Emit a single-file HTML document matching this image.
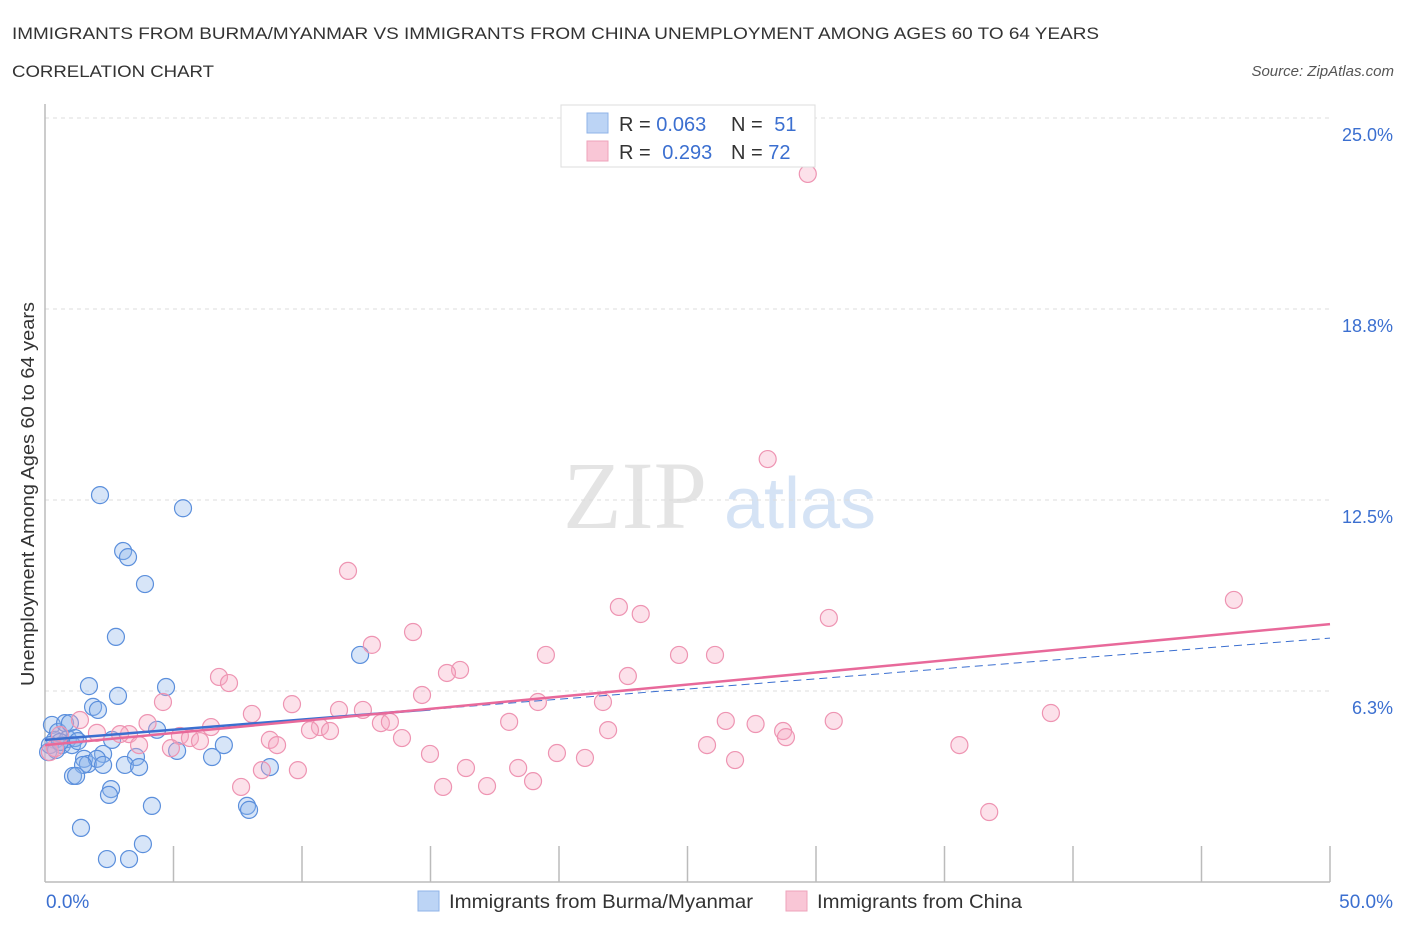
<!DOCTYPE html>
<html><head><meta charset="utf-8"><style>
body{margin:0;background:#fff;font-family:"Liberation Sans",sans-serif;}
svg{display:block}
</style></head><body>
<svg id="chart" width="1406" height="930" viewBox="0 0 1406 930">
<text x="12" y="39" font-size="17" fill="#333" textLength="1087" lengthAdjust="spacingAndGlyphs">IMMIGRANTS FROM BURMA/MYANMAR VS IMMIGRANTS FROM CHINA UNEMPLOYMENT AMONG AGES 60 TO 64 YEARS</text>
<text x="12" y="77" font-size="17" fill="#333" textLength="202" lengthAdjust="spacingAndGlyphs">CORRELATION CHART</text>
<text x="1394" y="76" font-size="15" font-style="italic" fill="#555" text-anchor="end">Source: ZipAtlas.com</text>
<text x="635" y="528" font-size="96" font-family="Liberation Serif,serif" fill="#e4e4e4" text-anchor="middle">ZIP</text>
<text x="800" y="528" font-size="72" fill="#d5e3f5" text-anchor="middle">atlas</text>
<text transform="translate(34,494) rotate(-90)" font-size="18" fill="#333" text-anchor="middle" textLength="384" lengthAdjust="spacingAndGlyphs">Unemployment Among Ages 60 to 64 years</text>
<g id="grid"></g><g id="axes"></g><g id="pts"></g><g id="trend"></g>
<g>
<rect x="561" y="105" width="254" height="62" fill="#fff" stroke="#ddd"/>
<rect x="587" y="113" width="21" height="20" fill="#bcd4f5" stroke="#8fb3e8"/>
<rect x="587" y="141" width="21" height="20" fill="#f9c6d6" stroke="#eea3bb"/>
<text x="619" y="131" font-size="20" fill="#333">R = <tspan fill="#3b6fd0">0.063</tspan></text>
<text x="731" y="131" font-size="20" fill="#333">N = <tspan fill="#3b6fd0" dx="6">51</tspan></text>
<text x="619" y="159" font-size="20" fill="#333">R = <tspan fill="#3b6fd0" dx="6">0.293</tspan></text>
<text x="731" y="159" font-size="20" fill="#333">N = <tspan fill="#3b6fd0">72</tspan></text>
</g>
<g>
<rect x="418" y="891" width="21" height="20" fill="#bcd4f5" stroke="#8fb3e8"/>
<text x="449" y="908" font-size="19" fill="#333" textLength="304" lengthAdjust="spacingAndGlyphs">Immigrants from Burma/Myanmar</text>
<rect x="786" y="891" width="21" height="20" fill="#f9c6d6" stroke="#eea3bb"/>
<text x="817" y="908" font-size="19" fill="#333" textLength="205" lengthAdjust="spacingAndGlyphs">Immigrants from China</text>
</g>
</svg>
<script>
const yTicks=[6.25,12.5,18.75,25];
const yTickLabels=["6.3%","12.5%","18.8%","25.0%"];
const xTickLabels=["0.0%","50.0%"];
const burmaX=[0.27,0.39,0.51,0.66,0.78,0.89,0.97,1.05,0.12,0.19,0.43,0.58,1.17,1.28,2.14,5.37,3.04,3.23,3.89,2.76,12.26,1.71,4.71,2.84,1.87,2.06,4.36,6.96,2.61,5.14,6.5,2.26,1.52,1.67,2.02,3.54,3.11,2.26,3.66,1.48,1.09,1.21,8.75,2.57,2.49,4.16,7.86,7.94,1.4,3.81,2.41,3.27];
const burmaY=[5.14,4.65,4.91,4.48,5.2,4.68,5.2,4.48,4.25,4.48,4.32,4.58,4.71,4.61,12.66,12.23,10.83,10.63,9.75,8.02,7.43,6.41,6.38,6.09,5.73,5.63,4.98,4.48,4.65,4.29,4.09,4.19,4.03,3.86,4.03,4.09,3.83,3.83,3.76,3.83,3.47,3.47,3.76,3.04,2.85,2.49,2.49,2.36,1.77,1.24,0.75,0.75];
const chinaX=[29.68,28.12,11.79,46.26,22.33,23.18,30.5,14.32,12.72,19.49,24.67,26.07,16.15,15.64,22.68,6.77,7.16,14.67,9.61,4.59,19.18,21.71,39.14,11.44,12.37,8.05,26.49,27.65,30.69,18.06,3.99,1.36,6.46,13.07,13.42,10.7,10.31,11.09,21.91,28.72,28.83,5.25,5.64,3.27,2.92,2.02,0.58,8.75,9.03,13.89,6.03,3.66,4.9,25.76,35.58,14.98,19.92,21.01,26.85,8.44,9.84,16.38,18.41,7.63,15.49,17.2,18.99,36.74,0.19,0.39];
const chinaY=[23.17,13.84,10.18,9.23,9.0,8.77,8.64,8.18,7.76,7.43,7.43,7.43,6.94,6.84,6.74,6.71,6.51,6.12,5.82,5.89,5.89,5.89,5.53,5.63,5.63,5.5,5.27,5.17,5.27,5.24,5.2,5.3,5.07,5.2,5.24,5.07,4.97,4.94,4.97,4.94,4.74,4.78,4.71,4.84,4.84,4.88,4.81,4.65,4.48,4.71,4.61,4.48,4.38,4.48,4.48,4.19,4.22,4.06,3.99,3.66,3.66,3.73,3.73,3.11,3.11,3.14,3.3,2.29,4.25,4.38];
const trendBurma=[4.65,7.98];
const trendChina=[4.48,8.44];
const NS='http://www.w3.org/2000/svg';
const X0=45,X1=1330,YB=882,YT=118;
const sx=v=>X0+v/50*(X1-X0);
const sy=v=>YB-v/25*(YB-YT);
function mk(tag,attrs,parent){const e=document.createElementNS(NS,tag);for(const k in attrs)e.setAttribute(k,attrs[k]);parent.appendChild(e);return e;}
const grid=document.getElementById('grid'),axes=document.getElementById('axes'),pts=document.getElementById('pts'),trend=document.getElementById('trend');
yTicks.forEach((t,i)=>{
  const l=mk('line',{x1:X0,x2:1330,y1:sy(t),y2:sy(t),stroke:'#ddd','stroke-dasharray':'4,4'},grid);
  
  
  const tx=mk('text',{x:1393,y:sy(t)+23,'font-size':18,fill:'#3b6fd0','text-anchor':'end'},grid);
  tx.textContent=yTickLabels[i];
  
  
});
const ya=mk('line',{x1:X0,x2:X0,y1:104,y2:YB,stroke:'#bbb','stroke-width':1.5},axes);


const xa=mk('line',{x1:X0,x2:1330,y1:YB,y2:YB,stroke:'#bbb','stroke-width':1.5},axes);


for(let i=1;i<=10;i++){
  const t=mk('line',{x1:sx(i*5),x2:sx(i*5),y1:YB,y2:YB-36,stroke:'#bbb','stroke-width':1.5},axes);
  
  
}
[[0,'start',46],[50,'end',1393]].forEach((d,i)=>{
  const t=mk('text',{x:d[2],y:908,'font-size':19,fill:'#3b6fd0','text-anchor':d[1]},axes);
  t.textContent=xTickLabels[i];
  
  
});
burmaX.forEach((x,i)=>{
  const c=mk('circle',{cx:sx(x),cy:sy(burmaY[i]),r:8.5,fill:'rgba(140,180,235,0.35)',stroke:'#5b8fdc','stroke-width':1.2},pts);
  
  
});
chinaX.forEach((x,i)=>{
  const c=mk('circle',{cx:sx(x),cy:sy(chinaY[i]),r:8.5,fill:'rgba(245,170,195,0.35)',stroke:'#ee94b2','stroke-width':1.2},pts);
  
  
});
const bxMid=15,byMid=trendBurma[0]+(trendBurma[1]-trendBurma[0])*bxMid/50;
const tb1=mk('line',{x1:sx(0),y1:sy(trendBurma[0]),x2:sx(bxMid),y2:sy(byMid),stroke:'#3b6fd0','stroke-width':2.5},trend);


const tb2=mk('line',{x1:sx(bxMid),y1:sy(byMid),x2:sx(50),y2:sy(trendBurma[1]),stroke:'#3b6fd0','stroke-width':1,'stroke-dasharray':'8,5'},trend);


const tc=mk('line',{x1:sx(0),y1:sy(trendChina[0]),x2:sx(50),y2:sy(trendChina[1]),stroke:'#e8699a','stroke-width':2.5},trend);


</script>
</body></html>
